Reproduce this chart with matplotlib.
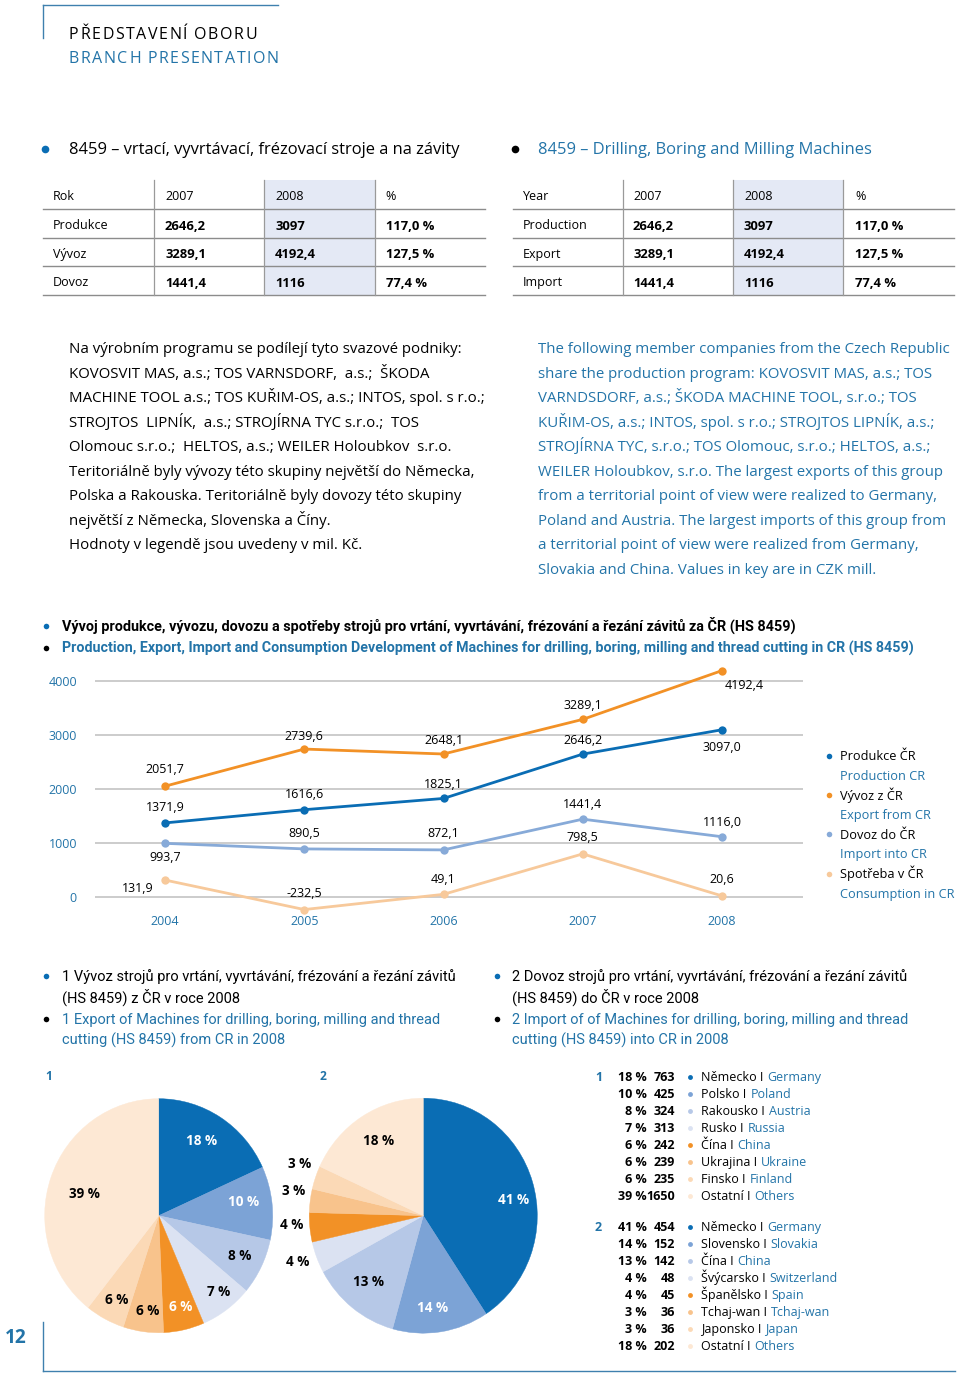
import matplotlib
matplotlib.use("Agg")
import matplotlib.pyplot as plt
from matplotlib.lines import Line2D
from matplotlib.patches import Rectangle
from matplotlib.text import Annotation
import math

# ---------------- data ----------------
years = [2004, 2005, 2006, 2007, 2008]
production = [1371.9, 1616.6, 1825.1, 2646.2, 3097.0]
export = [2051.7, 2739.6, 2648.1, 3289.1, 4192.4]
imports = [993.7, 890.5, 872.1, 1441.4, 1116.0]
consumption = [313.9, -232.5, 49.1, 798.5, 20.6]
consumption_labels = ["131,9", "-232,5", "49,1", "798,5", "20,6"]  # as printed
yticks = [0, 1000, 2000, 3000, 4000]

table_head_cz = ["Rok", "Produkce", "Vývoz", "Dovoz"]
table_head_en = ["Year", "Production", "Export", "Import"]
table_cols = ["2007", "2008", "%"]
val_2007 = ["2646,2", "3289,1", "1441,4"]
val_2008 = ["3097", "4192,4", "1116"]
val_pct = ["117,0 %", "127,5 %", "77,4 %"]

exp_countries_cz = ["Německo", "Polsko", "Rakousko", "Rusko", "Čína", "Ukrajina", "Finsko", "Ostatní"]
exp_countries_en = ["Germany", "Poland", "Austria", "Russia", "China", "Ukraine", "Finland", "Others"]
exp_values = [763, 425, 324, 313, 242, 239, 235, 1650]
exp_pct = [18, 10, 8, 7, 6, 6, 6, 39]

imp_countries_cz = ["Německo", "Slovensko", "Čína", "Švýcarsko", "Španělsko", "Tchaj-wan", "Japonsko", "Ostatní"]
imp_countries_en = ["Germany", "Slovakia", "China", "Switzerland", "Spain", "Tchaj-wan", "Japan", "Others"]
imp_values = [454, 152, 142, 48, 45, 36, 36, 202]
imp_pct = [41, 14, 13, 4, 4, 3, 3, 18]

para_cz = [
    "Na výrobním programu se podílejí tyto svazové podniky:",
    "KOVOSVIT MAS, a.s.; TOS VARNSDORF,  a.s.;  ŠKODA",
    "MACHINE TOOL a.s.; TOS KUŘIM-OS, a.s.; INTOS, spol. s r.o.;",
    "STROJTOS  LIPNÍK,  a.s.; STROJÍRNA TYC s.r.o.;  TOS",
    "Olomouc s.r.o.;  HELTOS, a.s.; WEILER Holoubkov  s.r.o.",
    "Teritoriálně byly vývozy této skupiny největší do Německa,",
    "Polska a Rakouska. Teritoriálně byly dovozy této skupiny",
    "největší z Německa, Slovenska a Číny.",
    "Hodnoty v legendě jsou uvedeny v mil. Kč.",
]
para_en = [
    "The following member companies from the Czech Republic",
    "share the production program: KOVOSVIT MAS, a.s.; TOS",
    "VARNDSDORF, a.s.; ŠKODA MACHINE TOOL, s.r.o.; TOS",
    "KUŘIM-OS, a.s.; INTOS, spol. s r.o.; STROJTOS LIPNÍK, a.s.;",
    "STROJÍRNA TYC, s.r.o.; TOS Olomouc, s.r.o.; HELTOS, a.s.;",
    "WEILER Holoubkov, s.r.o. The largest exports of this group",
    "from a territorial point of view were realized to Germany,",
    "Poland and Austria. The largest imports of this group from",
    "a territorial point of view were realized from Germany,",
    "Slovakia and China. Values in key are in CZK mill.",
]

chart_title_cz = "Vývoj produkce, vývozu, dovozu a spotřeby strojů pro vrtání, vyvrtávání, frézování a řezání závitů za ČR (HS 8459)"
chart_title_en = "Production, Export, Import and Consumption Development of Machines for drilling, boring, milling and thread cutting in CR (HS 8459)"
pie1_title = ["1 Vývoz strojů pro vrtání, vyvrtávání, frézování a řezání závitů", "(HS 8459) z ČR v roce 2008",
              "1 Export of Machines for drilling, boring, milling and thread", "cutting (HS 8459) from CR in 2008"]
pie2_title = ["2 Dovoz strojů pro vrtání, vyvrtávání, frézování a řezání závitů", "(HS 8459) do ČR v roce 2008",
              "2 Import of of Machines for drilling, boring, milling and thread", "cutting (HS 8459) into CR in 2008"]

# ---------------- style ----------------
W, H = 960, 1374
BLUE_TXT = '#2374a8'
FRAME = '#3f80ae'
C_DARK = '#0a6db4'
C_MID = '#7ca3d6'
C_LIGHT = '#b6c8e7'
C_VLIGHT = '#dbe2f2'
C_OR = '#f29126'
C_OR2 = '#f8c38c'
C_OR3 = '#fbd9b6'
C_OR4 = '#fde8d4'
L_IMP = '#87aad8'
L_CONS = '#f7c99b'
pie_colors = [C_DARK, C_MID, C_LIGHT, C_VLIGHT, C_OR, C_OR2, C_OR3, C_OR4]

BODY = ['Open Sans', 'DejaVu Sans']
NARROW = ['Roboto', 'DejaVu Sans']
PT = 0.72
YOFF = 2.0
BASE_K = 0.27

fig = plt.figure(figsize=(W / 100, H / 100), dpi=100)
fig.patch.set_facecolor('white')
renderer = fig.canvas.get_renderer()


def fx(x):
    return x / W


def fy(y):
    return 1 - y / H


def txt(x, y, s, px=13, color='black', weight='normal', ha='left', family=BODY, **kw):
    # y is the visual centre of the line; text is placed on its baseline
    yb = y + YOFF + BASE_K * px
    return fig.text(fx(x), fy(yb), s, fontsize=px * PT, color=color, fontweight=weight,
                    ha=ha, va='baseline', family=family, **kw)


def width_px(t):
    return t.get_window_extent(renderer).width


def fit(t, target):
    t.set_fontsize(t.get_fontsize() * target / width_px(t))
    return t.get_fontsize()


def spaced(x, y, s, px, color, target):
    # letter-spaced heading: natural glyph widths plus uniform tracking
    probe = txt(0, 0, "a a", px, color)
    probe2 = txt(0, 0, "aa", px, color)
    space_w = width_px(probe) - width_px(probe2)
    probe.remove()
    probe2.remove()
    widths = []
    for ch in s:
        if ch == ' ':
            widths.append(space_w)
        else:
            t = txt(0, 0, ch, px, color)
            widths.append(width_px(t) + 1.2)
            t.remove()
    extra = (target - sum(widths)) / (len(s) - 1)
    cur = x
    for ch, w in zip(s, widths):
        if ch != ' ':
            txt(cur, y, ch, px, color)
        cur += w + extra


def txt_after(prev, s, px=13, color='black', weight='normal', family=BODY, gap=4):
    yb = prev.get_position()[1]
    a = Annotation(s, xy=(1, yb), xycoords=(prev, 'figure fraction'), xytext=(gap * PT, 0),
                   textcoords='offset points', ha='left', va='baseline', fontsize=px * PT,
                   color=color, fontweight=weight, family=family)
    fig.add_artist(a)
    return a


def hline(y, x0, x1, color='#8a8a8a', lw=1.0):
    fig.add_artist(Line2D([fx(x0), fx(x1)], [fy(y), fy(y)], transform=fig.transFigure, color=color, lw=lw))


def vline(x, y0, y1, color='#8a8a8a', lw=1.0):
    fig.add_artist(Line2D([fx(x), fx(x)], [fy(y0), fy(y1)], transform=fig.transFigure, color=color, lw=lw))


def bullet(x, y, color, ms=4.5):
    fig.add_artist(Line2D([fx(x)], [fy(y + YOFF * 0.5)], transform=fig.transFigure, marker='o', ms=ms,
                          color=color, mec='none', lw=0))


# ---------------- header / frame ----------------
vline(43, 5, 38, FRAME, 1.0)
hline(5, 43, 278, FRAME, 1.0)
spaced(69, 33, "PŘEDSTAVENÍ OBORU", 16, 'black', 189)
spaced(69, 57, "BRANCH PRESENTATION", 16, BLUE_TXT, 211)
vline(43, 1322, 1371, FRAME, 1.0)
hline(1371, 43, 955, FRAME, 1.0)
txt(16, 1336, "12", 19, BLUE_TXT, 'bold', ha='center')

# ---------------- headings ----------------
bullet(45, 148, C_DARK, 5.5)
txt(69, 148, "8459 – vrtací, vyvrtávací, frézovací stroje a na závity", 16.5, 'black')
bullet(515, 148, 'black', 5.5)
txt(538, 148, "8459 – Drilling, Boring and Milling Machines", 16.5, BLUE_TXT)


# ---------------- tables ----------------
def draw_table(x0, x1, seps, textx, heads):
    fig.add_artist(Rectangle((fx(seps[1]), fy(295)), (seps[2] - seps[1]) / W, (295 - 180) / H,
                             transform=fig.transFigure, color='#e4e9f5', zorder=0, lw=0))
    for yy in [209, 237.7, 266.3, 295]:
        hline(yy, x0, x1, '#8c8c8c', 1.0)
    for xx in seps:
        vline(xx, 180, 295, '#9a9a9a', 0.9)
    rows_y = [195, 224, 252.5, 281]
    txt(textx[0], rows_y[0], heads[0], 12.5)
    for j, c in enumerate(table_cols):
        txt(textx[j + 1], rows_y[0], c, 12.5)
    for i in range(3):
        y = rows_y[i + 1]
        txt(textx[0], y, heads[i + 1], 12.5)
        txt(textx[1], y, val_2007[i], 13, weight='bold')
        txt(textx[2], y, val_2008[i], 13, weight='bold')
        txt(textx[3], y, val_pct[i], 13, weight='bold')


draw_table(43, 485, [154, 264, 374.5], [53, 165, 275, 385.5], table_head_cz)
draw_table(512.5, 954, [622.7, 733.3, 843.3], [522.5, 633, 744, 855], table_head_en)

# ---------------- paragraphs ----------------
for i, line in enumerate(para_cz):
    txt(69, 347 + i * 24.5, line, 15, 'black')
for i, line in enumerate(para_en):
    txt(538, 347 + i * 24.5, line, 15, BLUE_TXT)

# ---------------- line chart titles ----------------
bullet(46, 625, C_DARK, 4)
t = txt(62, 625, chart_title_cz, 14, 'black', 'bold', family=NARROW)
fit(t, 738)
bullet(46, 647, 'black', 4)
t = txt(62, 647, chart_title_en, 14, BLUE_TXT, 'bold', family=NARROW)
fit(t, 855)

# ---------------- line chart ----------------
y_top_px, y_bot_px = 664.8, 913.2
ax = fig.add_axes([fx(95), fy(y_bot_px), 708 / W, (y_bot_px - y_top_px) / H])
ax.set_xlim(2003.497, 2008.582)
ax.set_ylim(-300, 4300)
for s in ax.spines.values():
    s.set_visible(False)
ax.patch.set_alpha(0)
ax.set_yticks(yticks)
ax.set_yticklabels([str(v) for v in yticks], family=BODY)
ax.set_xticks(years)
ax.set_xticklabels([str(v) for v in years], family=BODY)
ax.tick_params(length=0, colors=BLUE_TXT, labelsize=12.5 * PT)
ax.tick_params(axis='y', pad=13)
ax.tick_params(axis='x', pad=1)
ax.grid(axis='y', color='#c8c8c8', lw=1.3)
ax.set_axisbelow(True)


def fmt(v):
    return f"{v:.1f}".replace('.', ',')


series = [
    (consumption, L_CONS, consumption_labels,
     [(-27, 8), (0, -16), (0, -15), (0, -16), (0, -16)]),
    (imports, L_IMP, [fmt(v) for v in imports],
     [(0, 14), (0, -15), (0, -16), (0, -15), (0, -14)]),
    (production, C_DARK, [fmt(v) for v in production],
     [(0, -15), (0, -15), (0, -14), (0, -14), (0, 18)]),
    (export, C_OR, [fmt(v) for v in export],
     [(0, -17), (0, -13), (0, -14), (0, -14), (22, 15)]),
]
for vals, col, labs, offs in series:
    ax.plot(years, vals, color=col, lw=2.0, marker='o', ms=6, mec='none', clip_on=False, zorder=3)
    for xv, yv, lab, (dx, dy) in zip(years, vals, labs, offs):
        ax.annotate(lab, (xv, yv), xytext=(dx * PT, -dy * PT), textcoords='offset points',
                    ha='center', va='center', fontsize=12.5 * PT, family=BODY, color='black')

legend_items = [("Produkce ČR", "Production CR", C_DARK),
                ("Vývoz z ČR", "Export from CR", C_OR),
                ("Dovoz do ČR", "Import into CR", L_IMP),
                ("Spotřeba v ČR", "Consumption in CR", L_CONS)]
for i, (cz, en, col) in enumerate(legend_items):
    y0 = 755 + i * 39.2
    bullet(829, y0, col, 4)
    txt(840, y0, cz, 12.8, 'black')
    txt(840, y0 + 19.5, en, 12.8, BLUE_TXT)


# ---------------- pie titles ----------------
def title_block(xb, xt, lines, target_first):
    bullet(xb, 975, C_DARK, 4)
    t0 = txt(xt, 975, lines[0], 14, 'black', family=NARROW)
    size = fit(t0, target_first)
    txt(xt, 997, lines[1], size / PT, 'black', family=NARROW)
    bullet(xb, 1018, 'black', 4)
    txt(xt, 1018, lines[2], size / PT, BLUE_TXT, family=NARROW)
    txt(xt, 1039, lines[3], size / PT, BLUE_TXT, family=NARROW)


title_block(46, 62, pie1_title, 393)
title_block(497, 512, pie2_title, 395)

txt(45, 1075, "1", 12, BLUE_TXT, 'bold')
txt(320, 1075, "2", 12, BLUE_TXT, 'bold')


# ---------------- pies ----------------
def draw_pie(cx, cy, rx, ry, values, pcts, radii, dangs, white):
    a = fig.add_axes([fx(cx - rx), fy(cy + ry), 2 * rx / W, 2 * ry / H])
    wedges, _ = a.pie(values, colors=pie_colors, startangle=90, counterclock=False, radius=1)
    for w in wedges:
        w.set_edgecolor(w.get_facecolor())
        w.set_linewidth(0.3)
    a.set_xlim(-1, 1)
    a.set_ylim(-1, 1)
    a.set_aspect('auto')
    a.axis('off')
    total = sum(values)
    cum = 0
    for v, p, r, da, wc in zip(values, pcts, radii, dangs, white):
        mid = (cum + v / 2) / total
        cum += v
        th = math.radians(90 - 360 * mid + da)
        a.text(r * math.cos(th), r * math.sin(th), f"{p} %", ha='center', va='center',
               fontsize=13.5 * PT, fontweight='bold', family=BODY,
               color='white' if wc else 'black')


draw_pie(158.7, 1215.7, 114, 117, exp_values, exp_pct,
         [0.74, 0.75, 0.79, 0.84, 0.80, 0.82, 0.81, 0.68],
         [2, 3, 0, 2, 1, 1, 1, 3],
         [True, True, False, False, True, False, False, False])
draw_pie(423.3, 1215.7, 114, 117.5, imp_values, imp_pct,
         [0.8, 0.79, 0.74, 1.17, 1.16, 1.16, 1.17, 0.75],
         [-7, -3, -2, -1, -2, -3, -3, -1],
         [True, True, False, False, False, False, False, False])


# ---------------- pie legends ----------------
def legend_block(num, y0, pcts, vals, cz, en):
    txt(595, y0, num, 12.5, BLUE_TXT, 'bold')
    for i in range(len(vals)):
        y = y0 + i * 17
        txt(647, y, f"{pcts[i]} %", 12.5, 'black', 'bold', ha='right')
        txt(675, y, str(vals[i]), 12.5, 'black', 'bold', ha='right')
        bullet(690, y, pie_colors[i], 3.5)
        t1 = txt(701, y, f"{cz[i]} I", 12.5, 'black')
        txt_after(t1, en[i], 12.5, BLUE_TXT, gap=4)


legend_block("1", 1076, exp_pct, exp_values, exp_countries_cz, exp_countries_en)
legend_block("2", 1226, imp_pct, imp_values, imp_countries_cz, imp_countries_en)

fig.savefig("out.png", dpi=100, facecolor='white')
